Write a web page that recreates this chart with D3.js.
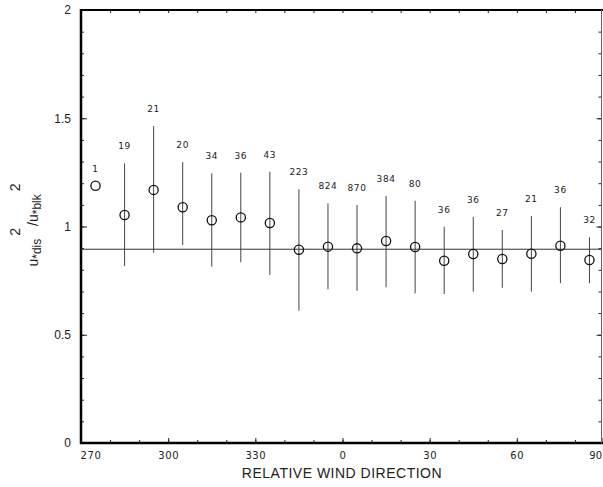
<!DOCTYPE html>
<html>
<head>
<meta charset="utf-8">
<script src="https://cdn.jsdelivr.net/npm/d3@7"></script>
<style>
	body { margin: 0; background: #fff; }
	svg { display: block; }
	.axis path { display: none; }
	.axis line { stroke: #222; }
	text { fill: #222; }
</style>
</head>
<body>
<div id="chart"></div>
<script>
// wind direction bins (deg, continuous past 360), ratio means, error bar ends, sample counts
const dirs   = [275, 285, 295, 305, 315, 325, 335, 345, 355, 365, 375, 385, 395, 405, 415, 425, 435, 445];
const means  = [1.188, 1.053, 1.169, 1.089, 1.029, 1.042, 1.016, 0.893, 0.907, 0.899, 0.933, 0.905, 0.842, 0.873, 0.850, 0.874, 0.911, 0.845];
const upper  = [null, 1.292, 1.464, 1.297, 1.246, 1.249, 1.253, 1.172, 1.107, 1.099, 1.141, 1.119, 0.999, 1.045, 0.984, 1.049, 1.089, 0.950];
const lower  = [null, 0.818, 0.879, 0.915, 0.814, 0.835, 0.776, 0.611, 0.710, 0.703, 0.719, 0.691, 0.688, 0.699, 0.717, 0.699, 0.738, 0.738];
const counts = [1, 19, 21, 20, 34, 36, 43, 223, 824, 870, 384, 80, 36, 36, 27, 21, 36, 32];
const refLine = 0.895;

const xTicks = [270, 300, 330, 360, 390, 420, 450];
const xTickLabels = ['270', '300', '330', '0', '30', '60', '90'];
const yTicks = [0, 0.5, 1, 1.5, 2];

const width = 603;
const height = 487;
const margin = {t:10, r:-1, b:44, l:81};

const svg = d3.select('#chart').append('svg')
	.attr('width', width)
	.attr('height', height);

const scaleX = d3.scaleLinear().domain([270, 450]).range([margin.l, width - margin.r]);
const scaleY = d3.scaleLinear().domain([0, 2]).range([height - margin.b, margin.t]);

const x0 = scaleX(270), yB = scaleY(0), yT = scaleY(2);
const xR = width - 1.5;

// minor ticks, all pointing inward
svg.append('g').attr('class','axis')
	.attr('transform', `translate(${x0},0)`)
	.call(d3.axisLeft(scaleY).tickValues(d3.range(0, 2.01, 0.1)).tickSize(-3).tickFormat(''));
svg.append('g').attr('class','axis')
	.attr('transform', `translate(${xR},0)`)
	.call(d3.axisRight(scaleY).tickValues(d3.range(0, 2.01, 0.1)).tickSize(-3).tickFormat(''));
svg.append('g').attr('class','axis')
	.attr('transform', `translate(0,${yT})`)
	.call(d3.axisTop(scaleX).tickValues(d3.range(270, 451, 10)).tickSize(-3).tickFormat(''));
svg.append('g').attr('class','axis')
	.attr('transform', `translate(0,${yB})`)
	.call(d3.axisBottom(scaleX).tickValues(d3.range(270, 451, 10)).tickSize(-3).tickFormat(''));

// major ticks + labels
const axisY = svg.append('g').attr('class','axis')
	.attr('transform', `translate(${x0},0)`)
	.call(d3.axisLeft(scaleY).tickValues(yTicks).tickSize(-6).tickPadding(10).tickFormat(d3.format('')));
axisY.selectAll('text')
	.style('font-family', '"Liberation Sans", Arial, sans-serif')
	.style('font-size', '12px');

svg.append('g').attr('class','axis')
	.attr('transform', `translate(${xR},0)`)
	.call(d3.axisRight(scaleY).tickValues(yTicks).tickSize(-5).tickFormat(''));

const axisX = svg.append('g').attr('class','axis')
	.attr('transform', `translate(0,${yB})`)
	.call(d3.axisBottom(scaleX).tickValues(xTicks).tickSize(-5).tickPadding(9).tickFormat((d,i) => xTickLabels[i]));
axisX.selectAll('text')
	.style('font-family', '"DejaVu Sans", sans-serif')
	.style('font-size', '10px')
	.style('letter-spacing', '0.6px');
// first label sits right of the corner, last one is pulled inside the edge
axisX.selectAll('text').filter(d => d === 270).attr('text-anchor', 'start').attr('x', -1);
axisX.selectAll('.tick').filter(d => d === 450)
	.attr('transform', `translate(${width - 1},0)`)
	.select('text').attr('text-anchor', 'end').style('letter-spacing', '0px');

// frame
svg.append('line').attr('x1', x0).attr('x2', x0).attr('y1', yT - 1).attr('y2', yB + 1)
	.attr('stroke', '#000').attr('stroke-width', 2.5);
svg.append('line').attr('x1', x0 - 1).attr('x2', width).attr('y1', yB).attr('y2', yB)
	.attr('stroke', '#000').attr('stroke-width', 2.5);
svg.append('line').attr('x1', x0 - 1).attr('x2', width).attr('y1', yT).attr('y2', yT)
	.attr('stroke', '#000').attr('stroke-width', 2.2);
svg.append('line').attr('x1', xR).attr('x2', xR).attr('y1', yT).attr('y2', yB)
	.attr('stroke', '#666').attr('stroke-width', 1);

// reference line
svg.append('line')
	.attr('x1', x0).attr('x2', xR)
	.attr('y1', scaleY(refLine)).attr('y2', scaleY(refLine))
	.attr('stroke', '#333').attr('stroke-width', 1);

const pts = dirs.map((d, i) => ({dir: d, mean: means[i], hi: upper[i], lo: lower[i], n: counts[i]}));

// error bars
svg.selectAll('.bar')
	.data(pts.filter(d => d.hi != null))
	.enter().append('line')
	.attr('class', 'bar')
	.attr('x1', d => scaleX(d.dir)).attr('x2', d => scaleX(d.dir))
	.attr('y1', d => scaleY(d.hi)).attr('y2', d => scaleY(d.lo))
	.attr('stroke', '#444').attr('stroke-width', 1);

// points
svg.selectAll('.pt')
	.data(pts)
	.enter().append('circle')
	.attr('class', 'pt')
	.attr('cx', d => scaleX(d.dir))
	.attr('cy', d => scaleY(d.mean))
	.attr('r', 4.6)
	.attr('fill', 'none')
	.attr('stroke', '#111')
	.attr('stroke-width', 1.3);

// sample counts
svg.selectAll('.count')
	.data(pts)
	.enter().append('text')
	.attr('class', 'count')
	.attr('x', d => scaleX(d.dir))
	.attr('y', d => (d.hi != null ? scaleY(d.hi) : scaleY(d.mean)) - 17)
	.attr('dy', '0.35em')
	.attr('text-anchor', 'middle')
	.style('font-family', '"DejaVu Sans", sans-serif')
	.style('font-size', '9px')
	.style('letter-spacing', '0.6px')
	.text(d => d.n);

// axis titles
svg.append('text')
	.attr('x', 342).attr('y', 478)
	.attr('text-anchor', 'middle')
	.style('font-family', '"Liberation Sans", Arial, sans-serif')
	.style('font-size', '14px')
	.style('letter-spacing', '0.5px')
	.text('RELATIVE WIND DIRECTION');

const yTitle = svg.append('text')
	.attr('transform', 'translate(38,225) rotate(-90)')
	.attr('text-anchor', 'middle')
	.style('font-family', '"Liberation Sans", Arial, sans-serif')
	.style('font-size', '14px');
yTitle.append('tspan').text('u');
yTitle.append('tspan').attr('dy', 3).style('font-size', '12px').text('*dis');
yTitle.append('tspan').attr('dy', -21).attr('dx', 3).text('2');
yTitle.append('tspan').attr('dy', 18).attr('dx', 2).text('/u');
yTitle.append('tspan').attr('dy', 3).style('font-size', '12px').text('*blk');
yTitle.append('tspan').attr('dy', -21).attr('dx', 3).text('2');
</script>
</body>
</html>
